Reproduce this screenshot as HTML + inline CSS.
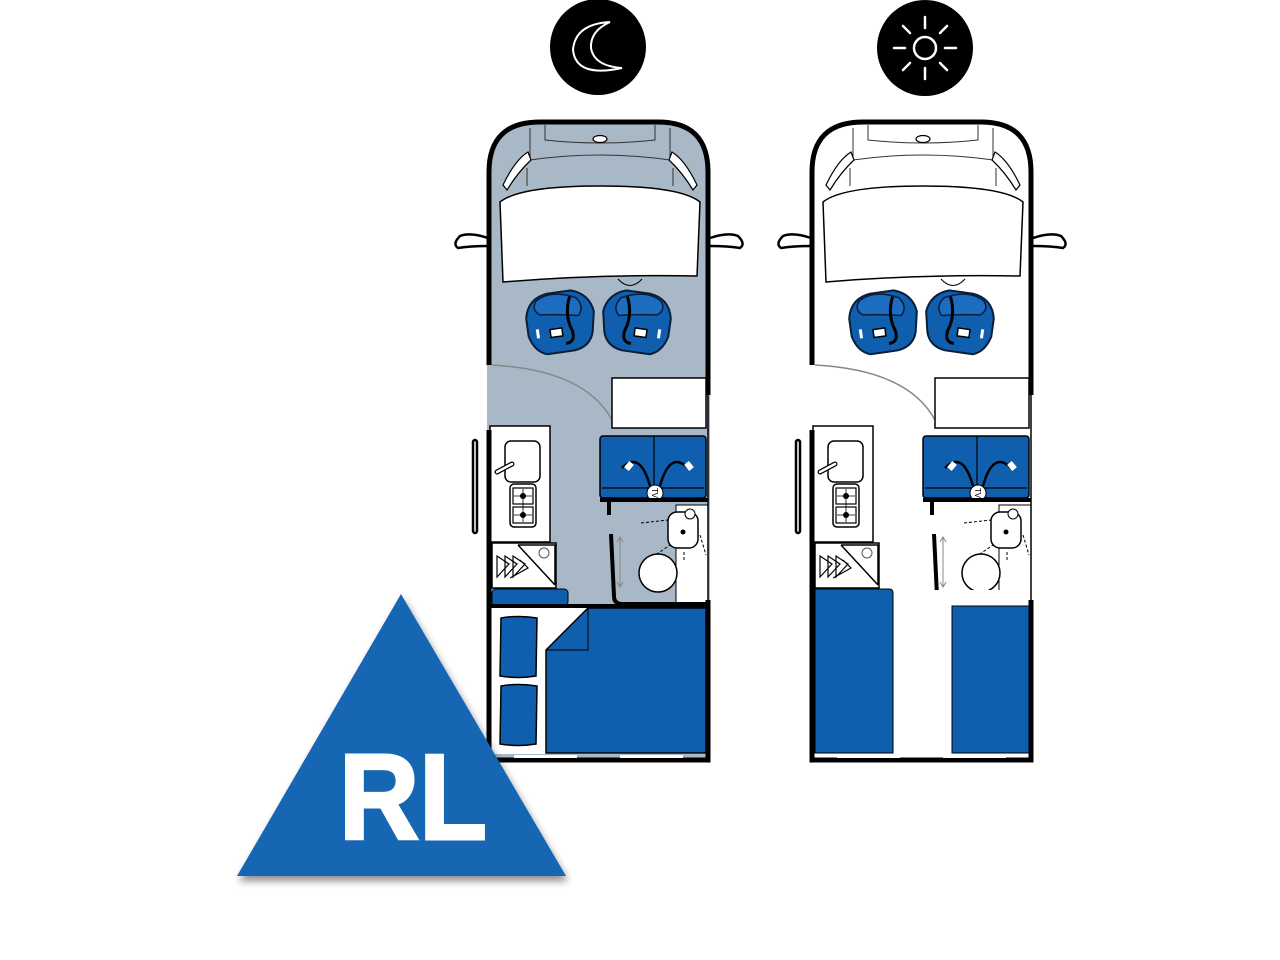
<!DOCTYPE html>
<html><head><meta charset="utf-8"><style>html,body{margin:0;padding:0;background:#fff}svg{display:block}</style></head>
<body>
<svg width="1280" height="960" viewBox="0 0 1280 960" xmlns="http://www.w3.org/2000/svg">
<defs>
<filter id="sh" x="-20%" y="-20%" width="140%" height="140%"><feGaussianBlur in="SourceAlpha" stdDeviation="4"/><feOffset dx="2" dy="5"/><feComponentTransfer><feFuncA type="linear" slope="0.45"/></feComponentTransfer><feMerge><feMergeNode/><feMergeNode in="SourceGraphic"/></feMerge></filter>
<g id="seat">
  <path d="M-34,-8 Q-30,-28 -10,-30 L14,-30 Q32,-24 34,-6 L30,14 Q26,28 10,30 L-18,30 Q-30,26 -34,10 Z" fill="#0f5fae" stroke="#0a1e3a" stroke-width="2"/>
  <path d="M-22,-24 Q-6,-34 18,-22 Q26,-12 18,-4 Q0,-8 -20,-10 Q-28,-16 -22,-24 Z" fill="#1c6cc0" stroke="#0a1e3a" stroke-width="1.5"/>
  <path d="M12,-24 Q4,-6 10,10 Q12,22 2,22" fill="none" stroke="#000" stroke-width="3"/>
  <rect x="-12" y="6" width="12" height="8" fill="#fff" stroke="#000" stroke-width="1.5"/>
  <rect x="-26" y="4" width="3" height="9" fill="#fff"/>
</g>
<g id="common">
  <path d="M500,202 Q520,186 600,186 Q680,186 700,202 L697,276 Q600,274 503,282 Z" fill="#fff" stroke="#000" stroke-width="1.5"/>
  <path d="M530,160 Q600,150 670,160 M527,168 L527,186 M673,168 L673,186 M530,128 L530,160 M670,128 L670,160 M545,125 L545,140 Q600,146 655,140 L655,125" fill="none" stroke="#333" stroke-width="1"/>
  <ellipse cx="600" cy="139" rx="7" ry="3.5" fill="#fff" stroke="#000" stroke-width="1.2"/>
  <path d="M503,185 Q515,160 528,152 L531,160 Q518,172 507,190 Z" fill="#fff" stroke="#000" stroke-width="1.2"/>
  <path d="M697,185 Q685,160 672,152 L669,160 Q682,172 693,190 Z" fill="#fff" stroke="#000" stroke-width="1.2"/>
  <path d="M618,279 Q630,292 642,279" fill="none" stroke="#000" stroke-width="1"/>
  <path d="M488,238 Q470,232 460,236 Q452,244 458,248 Q470,246 488,246" fill="#fff" stroke="#000" stroke-width="2.5"/>
  <path d="M710,238 Q728,232 738,236 Q746,244 740,248 Q728,246 710,246" fill="#fff" stroke="#000" stroke-width="2.5"/>
  <use href="#seat" transform="translate(561,322) rotate(-8)"/>
  <use href="#seat" transform="translate(636,322) scale(-1,1) rotate(-8)"/>
  <path d="M492,365 Q585,370 612,420" fill="none" stroke="#888" stroke-width="1.5"/>
  <rect x="612" y="378" width="94" height="50" fill="#fff" stroke="#000" stroke-width="1.5"/>
  <rect x="490" y="426" width="60" height="116" fill="#fff" stroke="#000" stroke-width="1.5"/>
  <rect x="505" y="441" width="35" height="41" rx="6" fill="#fff" stroke="#000" stroke-width="1.5"/>
  <path d="M497,472 L512,464" stroke="#000" stroke-width="5" stroke-linecap="round"/>
  <path d="M497,472 L512,464" stroke="#fff" stroke-width="2.5" stroke-linecap="round"/>
  <rect x="510" y="484" width="26" height="43" rx="4" fill="#fff" stroke="#000" stroke-width="1.5"/>
  <rect x="513" y="488" width="20" height="16" fill="none" stroke="#000" stroke-width="1.2"/>
  <rect x="513" y="507" width="20" height="16" fill="none" stroke="#000" stroke-width="1.2"/>
  <circle cx="523" cy="496" r="3" fill="#000"/><circle cx="523" cy="515" r="3" fill="#000"/>
  <path d="M523,489 V522 M514,496 H532 M514,515 H532" stroke="#000" stroke-width="0.8"/>
  <rect x="492" y="543" width="64" height="45" fill="#fff" stroke="#000" stroke-width="1.5"/>
  <path d="M518,545 L555,585 M518,545 H555 V585" fill="none" stroke="#000" stroke-width="1.5"/>
  <circle cx="544" cy="553" r="5" fill="none" stroke="#555" stroke-width="1"/>
  <path d="M497,556 L509,564 L497,577 Z M505,556 L517,564 L505,577 Z M513,556 L525,564 L513,577 Z M520,560 L528,568 L510,578" fill="none" stroke="#000" stroke-width="1.2"/>
  <rect x="480" y="440" width="4" height="93" rx="2" fill="#fff" stroke="#000" stroke-width="2.5" transform="translate(-7,0)"/>
  <rect x="600" y="436" width="106" height="62" rx="3" fill="#0f5fae" stroke="#000" stroke-width="1.5"/>
  <path d="M654,436 V492 M602,488 H704" stroke="#000" stroke-width="1.2"/>
  <path d="M622,468 Q640,450 650,486 M688,468 Q670,450 660,486" fill="none" stroke="#000" stroke-width="2.5"/>
  <rect x="626" y="462" width="6" height="8" fill="#fff" transform="rotate(40 629 466)"/>
  <rect x="686" y="462" width="6" height="8" fill="#fff" transform="rotate(-40 689 466)"/>
  <circle cx="655" cy="493" r="8" fill="#fff" stroke="#000" stroke-width="1"/>
  <text x="655" y="496" font-family="Liberation Sans, sans-serif" font-size="8" text-anchor="middle" transform="rotate(90 655 493)">TV</text>
  <path d="M600,500 H708" stroke="#000" stroke-width="4"/>
  <path d="M609,500 V515" stroke="#000" stroke-width="4"/>
  <rect x="676" y="505" width="32" height="100" fill="#fff" stroke="#000" stroke-width="1"/>
  <rect x="668" y="512" width="30" height="36" rx="9" fill="#fff" stroke="#000" stroke-width="1.5"/>
  <circle cx="683" cy="532" r="2.5" fill="#000"/>
  <circle cx="690" cy="514" r="5" fill="#fff" stroke="#000" stroke-width="1"/>
  <path d="M641,523 L668,520 M648,560 L670,545 M684,560 L684,550 M700,535 L706,555" stroke="#000" stroke-width="1" stroke-dasharray="3,2"/>
  <circle cx="658" cy="573" r="19" fill="#fff" stroke="#000" stroke-width="1.5"/>
  <path d="M611,534 L614,596 Q614,604 622,604 H708" fill="none" stroke="#000" stroke-width="4"/>
  <path d="M620,538 V586 M617,542 L620,537 L623,542 M617,582 L620,587 L623,582" fill="none" stroke="#888" stroke-width="1"/>
</g>
</defs>

<circle cx="598" cy="47" r="48" fill="#000"/>
<path d="M610,22 Q575,24 573,50 Q576,78 622,68 Q594,66 591,48 Q590,31 610,22 Z" fill="none" stroke="#fff" stroke-width="2"/>
<circle cx="925" cy="48" r="48" fill="#000"/>
<circle cx="925" cy="48" r="11" fill="none" stroke="#fff" stroke-width="2.5"/>
<g stroke="#fff" stroke-width="2.5" stroke-linecap="round">
<path d="M925,17 V28 M925,68 V79 M894,48 H905 M945,48 H956 M903,26 L910,33 M940,63 L947,70 M947,26 L940,33 M910,63 L903,70"/>
</g>

<path d="M487,760 V172 Q487,120 540,120 H658 Q710,120 710,172 V760 Z" fill="#a9b8c6"/>
<use href="#common"/>
<rect x="492" y="589" width="76" height="17" rx="4" fill="#0f5fae" stroke="#000" stroke-width="1"/>
<rect x="490" y="606" width="218" height="148" fill="#fff"/>
<path d="M490,606 H710" stroke="#000" stroke-width="4"/>
<path d="M588,608 L546,650 V753 H706 V608 Z" fill="#0f5fae" stroke="#000" stroke-width="1.5"/>
<path d="M546,650 H588 V608" fill="none" stroke="#000" stroke-width="1"/>
<path d="M501,618 Q518,615 537,618 L536,676 Q518,679 500,676 Z" fill="#0f5fae" stroke="#000" stroke-width="1.5"/>
<path d="M501,686 Q518,683 537,686 L536,744 Q518,747 500,744 Z" fill="#0f5fae" stroke="#000" stroke-width="1.5"/>
<path d="M489,365 V172 Q489,122 540,122 H658 Q708,122 708,172 V395" fill="none" stroke="#000" stroke-width="5"/>
<path d="M489,430 V760 H708 V600" fill="none" stroke="#000" stroke-width="5"/>
<path d="M708,395 V600" stroke="#000" stroke-width="1.5"/>
<rect x="514" y="755" width="63" height="3" fill="#fff"/><rect x="620" y="755" width="63" height="3" fill="#fff"/>

<g transform="translate(323,0)">
<path d="M487,760 V172 Q487,120 540,120 H658 Q710,120 710,172 V760 Z" fill="#fff"/>
<use href="#common"/>
<rect x="490" y="590" width="218" height="164" fill="#fff"/>
<path d="M492,589 H566 Q570,589 570,593 V753 H492 Z" fill="#0f5fae" stroke="#000" stroke-width="1"/>
<rect x="629" y="606" width="79" height="147" fill="#0f5fae" stroke="#000" stroke-width="1"/>
<path d="M489,365 V172 Q489,122 540,122 H658 Q708,122 708,172 V395" fill="none" stroke="#000" stroke-width="5"/>
<path d="M489,430 V760 H708 V600" fill="none" stroke="#000" stroke-width="5"/>
<path d="M708,395 V600" stroke="#000" stroke-width="1.5"/>
<rect x="514" y="755" width="63" height="3" fill="#fff"/><rect x="620" y="755" width="63" height="3" fill="#fff"/>
</g>

<path d="M401,594 L566,876 L237,876 Z" fill="#1666b3" filter="url(#sh)"/>
<text x="339" y="839" font-family="Liberation Sans, sans-serif" font-weight="bold" font-size="122" fill="#fff" stroke="#fff" stroke-width="3" textLength="148" lengthAdjust="spacingAndGlyphs">RL</text>
</svg>
</body></html>
